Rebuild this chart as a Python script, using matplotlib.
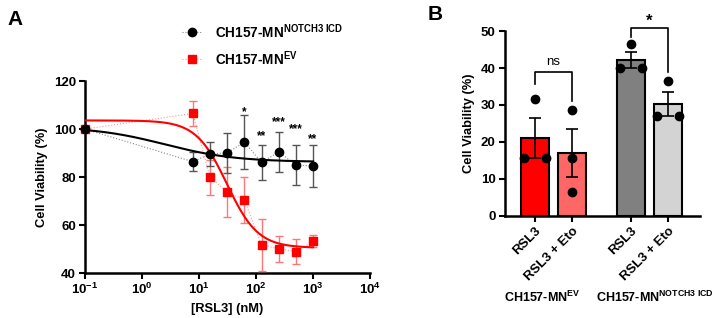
import numpy as np
import matplotlib
matplotlib.use("Agg")
import matplotlib.pyplot as plt

plt.rcParams['font.family'] = ['Liberation Sans', 'DejaVu Sans']
plt.rcParams['mathtext.fontset'] = 'custom'
plt.rcParams['mathtext.rm'] = 'Liberation Sans:bold'
plt.rcParams['mathtext.bf'] = 'Liberation Sans:bold'
plt.rcParams['mathtext.it'] = 'Liberation Sans:bold'

# ---------------- Panel A data ----------------
conc = [0.1, 7.8, 15.6, 31.25, 62.5, 125, 250, 500, 1000]
notch_mean = [100, 86.4, 89.6, 90.1, 94.6, 86.1, 90.5, 85.0, 84.6]
notch_err = [0, 4.0, 5.0, 8.4, 11.2, 7.4, 8.2, 8.5, 8.8]
ev_mean = [100, 106.5, 79.9, 73.9, 70.4, 51.7, 50.1, 48.9, 53.2]
ev_err = [0, 5.2, 7.4, 10.4, 9.7, 11.0, 5.5, 5.3, 2.5]
stars_x = [62.5, 125, 250, 500, 1000]
stars_txt = ['*', '**', '***', '***', '**']
stars_y = [107, 97, 103, 100, 96]
xticks_a = [0.1, 1, 10, 100, 1000, 10000]
xticklabels_a = ['10$^{-1}$', '10$^{0}$', '10$^{1}$', '10$^{2}$', '10$^{3}$', '10$^{4}$']
yticks_a = [40, 60, 80, 100, 120]
# 4-parameter logistic fit parameters (bottom, top, IC50, hill)
notch_fit = (86.3, 101.0, 2.5, 0.7)
ev_fit = (50.5, 103.6, 31.0, 1.6)

# ---------------- Panel B data ----------------
bar_labels = ['RSL3', 'RSL3 + Eto', 'RSL3', 'RSL3 + Eto']
bar_means = [21.0, 17.0, 42.1, 30.2]
bar_sem = [5.4, 6.5, 2.2, 3.2]
bar_points = [[31.7, 15.7, 15.7], [28.7, 15.7, 6.6], [46.5, 39.9, 39.9], [36.5, 27.1, 27.1]]
bar_colors = ['#ff0000', '#ff6666', '#808080', '#d3d3d3']
group_labels = ['CH157-MN$^{\\mathbf{EV}}$', 'CH157-MN$^{\\mathbf{NOTCH3\\ ICD}}$']

fig = plt.figure(figsize=(7.2, 3.18), dpi=100)

# ================= Panel A =================
ax = fig.add_axes([0.118, 0.1415, 0.396, 0.6035])


def four_pl(x, p):
    b, t, ic, h = p
    return b + (t - b) / (1 + (x / ic) ** h)


xs = np.logspace(-1, 3, 300)
ax.plot(conc, notch_mean, ls=':', color='#888888', lw=0.8, zorder=2)
ax.plot(conc, ev_mean, ls=':', color='#ff9999', lw=0.8, zorder=2)
ax.errorbar(conc[1:], ev_mean[1:], yerr=ev_err[1:], fmt='none', ecolor='#ff7777',
            elinewidth=1.0, capsize=3, capthick=1.0, zorder=3)
ax.errorbar(conc[1:], notch_mean[1:], yerr=notch_err[1:], fmt='none', ecolor='#555555',
            elinewidth=1.0, capsize=3, capthick=1.0, zorder=3)
ax.plot(xs, four_pl(xs, ev_fit), color='#ff0000', lw=1.5, zorder=4)
ax.plot(xs, four_pl(xs, notch_fit), color='black', lw=1.5, zorder=4)
ax.plot(conc, ev_mean, 's', color='#ff0000', ms=6, zorder=5, clip_on=False)
ax.plot(conc, notch_mean, 'o', color='black', ms=6, zorder=6, clip_on=False)
for sx, st, sy in zip(stars_x, stars_txt, stars_y):
    ax.text(sx, sy, st, ha='center', va='center', fontsize=8.5, fontweight='bold')

ax.set_xscale('log')
ax.set_xlim(0.1, 10000)
ax.set_ylim(40, 120)
ax.set_xticks(xticks_a)
ax.set_xticklabels(xticklabels_a)
ax.xaxis.set_minor_locator(matplotlib.ticker.NullLocator())
ax.set_yticks(yticks_a)
for s in ['top', 'right']:
    ax.spines[s].set_visible(False)
for s in ['left', 'bottom']:
    ax.spines[s].set_linewidth(1.8)
ax.tick_params(width=1.5, length=4, labelsize=9.5, pad=2.5)
for lab in ax.get_xticklabels() + ax.get_yticklabels():
    lab.set_fontweight('bold')
ax.set_xlabel('[RSL3] (nM)', fontsize=9.3, fontweight='bold', labelpad=4)
ax.set_ylabel('Cell Viability (%)', fontsize=9.3, fontweight='bold', labelpad=4)

# legend (manual)
fig.lines.append(plt.Line2D([0.253, 0.280], [0.900, 0.900], transform=fig.transFigure,
                            ls=':', color='#888888', lw=0.8))
fig.lines.append(plt.Line2D([0.2665], [0.900], transform=fig.transFigure, marker='o',
                            color='black', ms=6))
fig.lines.append(plt.Line2D([0.253, 0.280], [0.815, 0.815], transform=fig.transFigure,
                            ls=':', color='#ff9999', lw=0.8))
fig.lines.append(plt.Line2D([0.2665], [0.815], transform=fig.transFigure, marker='s',
                            color='#ff0000', ms=6))
fig.text(0.298, 0.900, 'CH157-MN$^{\\mathbf{NOTCH3\\ ICD}}$', fontsize=9.8, fontweight='bold',
         va='center', ha='left')
fig.text(0.298, 0.815, 'CH157-MN$^{\\mathbf{EV}}$', fontsize=9.8, fontweight='bold',
         va='center', ha='left', color='black')

fig.text(0.010, 0.940, 'A', fontsize=15, fontweight='bold', va='center')
fig.text(0.594, 0.955, 'B', fontsize=15, fontweight='bold', va='center')

# ================= Panel B =================
bx = fig.add_axes([0.701, 0.3208, 0.271, 0.5817])
pos = [0, 1, 2.6, 3.6]
bx.bar(pos, bar_means, width=0.75, color=bar_colors, edgecolor='black', linewidth=1.5, zorder=2)
bx.errorbar(pos, bar_means, yerr=bar_sem, fmt='none', ecolor='black',
            elinewidth=1.2, capsize=4, capthick=1.2, zorder=3)
for i, (p, pts) in enumerate(zip(pos, bar_points)):
    offs = [0, -0.3, 0.3] if i != 1 else [0, 0, 0]
    bx.plot(p + np.array(offs), pts, 'o', color='black', ms=6, zorder=4, clip_on=False)

# significance brackets
bx.plot([pos[0], pos[0], pos[1], pos[1]], [35.8, 38.9, 38.9, 31.2], color='black', lw=1.2, clip_on=False)
bx.text((pos[0] + pos[1]) / 2, 41.6, 'ns', ha='center', va='center', fontsize=9.5)
bx.plot([pos[2], pos[2], pos[3], pos[3]], [48.5, 50.7, 50.7, 38.9], color='black', lw=1.2, clip_on=False)
bx.text((pos[2] + pos[3]) / 2, 52.6, '*', ha='center', va='center', fontsize=12, fontweight='bold')

bx.set_xlim(-0.81, 4.46)
bx.set_ylim(0, 50)
bx.set_yticks([0, 10, 20, 30, 40, 50])
bx.set_xticks(pos)
bx.set_xticklabels(bar_labels, rotation=45, ha='right', rotation_mode='anchor')
for s in ['top', 'right']:
    bx.spines[s].set_visible(False)
for s in ['left', 'bottom']:
    bx.spines[s].set_linewidth(1.8)
bx.tick_params(width=1.5, length=4, labelsize=9.5, pad=2.5)
for lab in bx.get_xticklabels() + bx.get_yticklabels():
    lab.set_fontweight('bold')
bx.set_ylabel('Cell Viability (%)', fontsize=9.3, fontweight='bold', labelpad=4)

fig.text(0.753, 0.066, group_labels[0], fontsize=9, fontweight='bold', ha='center', va='center')
fig.text(0.910, 0.066, group_labels[1], fontsize=9, fontweight='bold', ha='center', va='center')

fig.savefig('out.png', dpi=100)
